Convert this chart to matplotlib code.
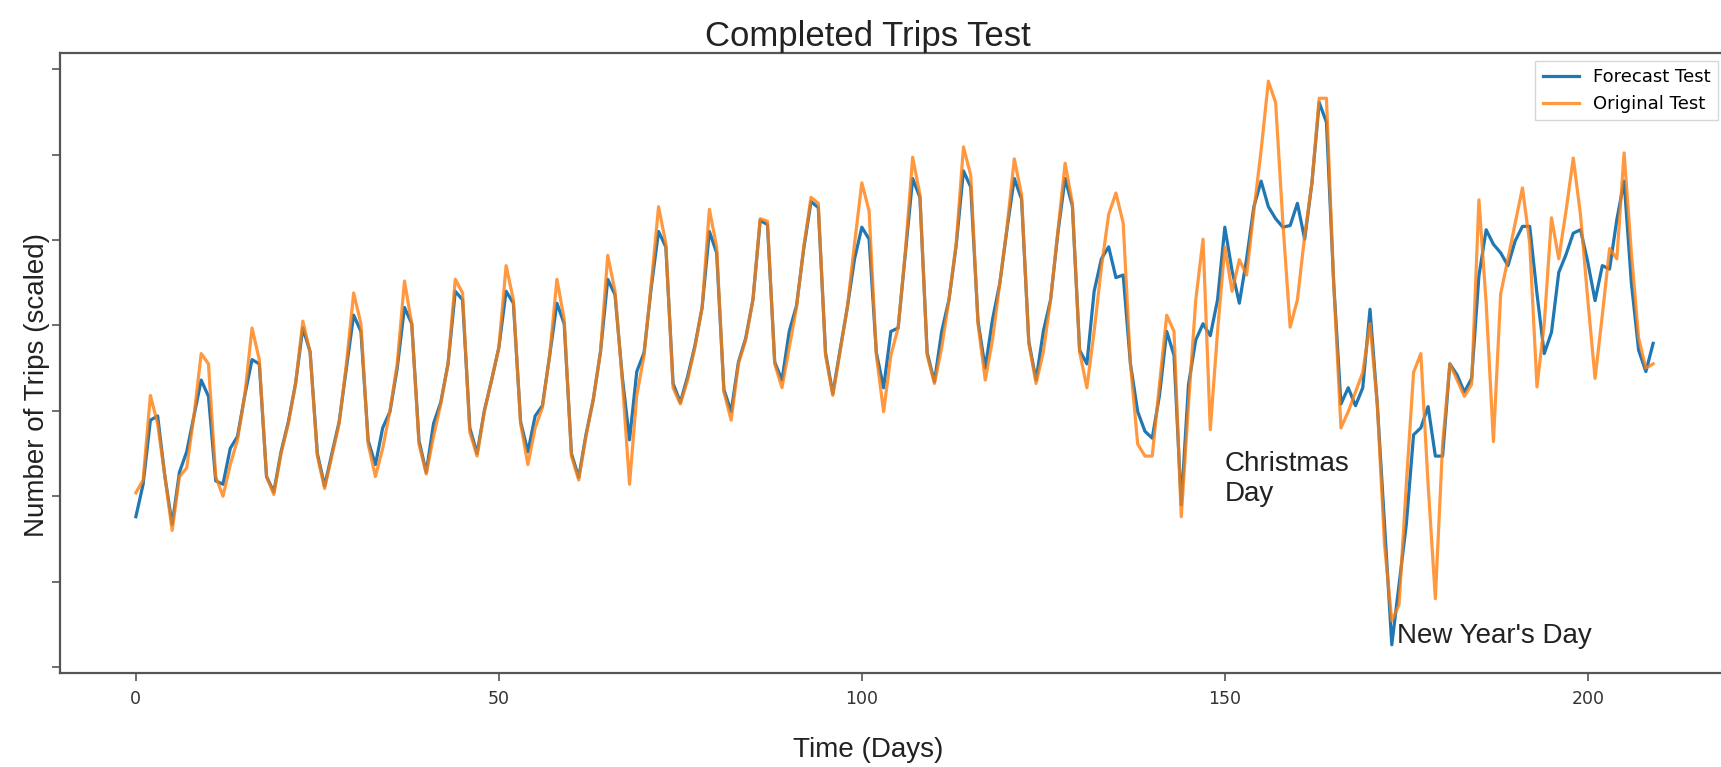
import numpy as np
import matplotlib.pyplot as plt

# ---- data (scaled trip counts, one value per day) ----
days = np.arange(210)

original_test = [
    2.04, 2.19, 3.18, 2.85, 2.23, 1.60, 2.23, 2.33, 2.94, 3.67,
    3.55, 2.23, 2.00, 2.37, 2.66, 3.18, 3.97, 3.60, 2.23, 2.02,
    2.50, 2.85, 3.32, 4.05, 3.69, 2.47, 2.09, 2.47, 2.85, 3.55,
    4.38, 4.02, 2.61, 2.23, 2.56, 3.00, 3.55, 4.52, 4.02, 2.61,
    2.26, 2.70, 3.08, 3.55, 4.54, 4.38, 2.75, 2.47, 2.99, 3.36,
    3.74, 4.70, 4.30, 2.85, 2.37, 2.80, 3.04, 3.65, 4.54, 4.07,
    2.47, 2.19, 2.70, 3.13, 3.69, 4.82, 4.40, 3.36, 2.14, 3.18,
    3.65, 4.49, 5.39, 4.96, 3.27, 3.08, 3.36, 3.74, 4.21, 5.36,
    4.92, 3.22, 2.89, 3.55, 3.83, 4.30, 5.25, 5.22, 3.55, 3.27,
    3.74, 4.21, 4.92, 5.50, 5.43, 3.65, 3.18, 3.69, 4.21, 4.96,
    5.67, 5.34, 3.65, 2.99, 3.65, 3.97, 4.87, 5.97, 5.53, 3.65,
    3.32, 3.74, 4.30, 4.96, 6.09, 5.76, 4.02, 3.36, 3.83, 4.49,
    5.15, 5.95, 5.53, 3.79, 3.32, 3.69, 4.30, 5.10, 5.90, 5.43,
    3.69, 3.27, 3.93, 4.68, 5.30, 5.55, 5.20, 3.55, 2.61, 2.47,
    2.47, 3.31, 4.12, 3.93, 1.76, 3.08, 4.30, 5.01, 2.78, 3.93,
    4.92, 4.40, 4.77, 4.59, 5.34, 6.05, 6.86, 6.61, 5.20, 3.98,
    4.30, 5.05, 5.67, 6.66, 6.66, 4.49, 2.80, 2.99, 3.22, 3.45,
    4.02, 3.08, 1.43, 0.54, 0.73, 2.14, 3.45, 3.67, 2.14, 0.80,
    2.61, 3.55, 3.36, 3.17, 3.31, 5.47, 4.26, 2.64, 4.37, 4.78,
    5.20, 5.61, 4.96, 3.28, 4.02, 5.26, 4.78, 5.34, 5.96, 5.29,
    4.30, 3.38, 4.12, 4.90, 4.78, 6.02, 4.85, 3.85, 3.50, 3.55,
]

forecast_test = [
    1.76, 2.14, 2.89, 2.94, 2.23, 1.67, 2.28, 2.52, 2.94, 3.36,
    3.17, 2.18, 2.14, 2.56, 2.70, 3.18, 3.60, 3.55, 2.23, 2.05,
    2.52, 2.87, 3.32, 3.97, 3.69, 2.50, 2.12, 2.50, 2.87, 3.50,
    4.12, 3.93, 2.65, 2.37, 2.80, 2.99, 3.50, 4.21, 4.02, 2.65,
    2.28, 2.85, 3.10, 3.55, 4.40, 4.30, 2.80, 2.50, 3.00, 3.36,
    3.74, 4.40, 4.26, 2.87, 2.52, 2.94, 3.06, 3.65, 4.26, 4.02,
    2.50, 2.22, 2.72, 3.13, 3.69, 4.54, 4.36, 3.40, 2.66, 3.46,
    3.68, 4.45, 5.10, 4.92, 3.32, 3.10, 3.40, 3.76, 4.21, 5.10,
    4.85, 3.25, 2.99, 3.57, 3.85, 4.30, 5.23, 5.18, 3.57, 3.36,
    3.93, 4.23, 4.90, 5.45, 5.38, 3.68, 3.20, 3.71, 4.21, 4.78,
    5.15, 5.01, 3.68, 3.27, 3.93, 3.97, 4.85, 5.72, 5.50, 3.68,
    3.34, 3.93, 4.30, 4.94, 5.81, 5.62, 4.05, 3.50, 4.07, 4.49,
    5.13, 5.72, 5.48, 3.81, 3.36, 3.93, 4.30, 5.08, 5.72, 5.40,
    3.71, 3.55, 4.40, 4.78, 4.92, 4.56, 4.59, 3.55, 2.99, 2.76,
    2.68, 3.18, 3.93, 3.65, 1.90, 3.31, 3.83, 4.02, 3.88, 4.30,
    5.15, 4.64, 4.26, 4.78, 5.39, 5.69, 5.39, 5.25, 5.15, 5.17,
    5.43, 5.01, 5.67, 6.61, 6.38, 4.49, 3.08, 3.27, 3.06, 3.27,
    4.19, 3.08, 1.67, 0.26, 0.97, 1.67, 2.72, 2.80, 3.05, 2.47,
    2.47, 3.55, 3.42, 3.22, 3.38, 4.58, 5.12, 4.95, 4.85, 4.70,
    4.99, 5.16, 5.16, 4.37, 3.67, 3.92, 4.62, 4.83, 5.08, 5.12,
    4.74, 4.29, 4.70, 4.66, 5.24, 5.69, 4.50, 3.71, 3.46, 3.79,
]

xticks = [0, 50, 100, 150, 200]

W, H = 1721, 767
fig = plt.figure(figsize=(W / 100, H / 100), dpi=100)
# axes box runs a little past the right edge, like the cropped original
ax = fig.add_axes([60 / W, 1 - 673 / H, (1729 - 60) / W, 620 / H])

ax.plot(days, forecast_test, color='#1f77b4', linewidth=2.3, label='Forecast Test')
ax.plot(days, original_test, color='#ff7f0e', linewidth=2.3, alpha=0.8,
        label='Original Test')

ax.set_xticks(xticks)
ax.set_yticks(range(8))
ax.set_yticklabels([])
ax.tick_params(axis='both', direction='out', length=6, width=1.2,
               color='#555555', labelsize=12.5, labelcolor='#333333', pad=6)
for sp in ax.spines.values():
    sp.set_color('#555555')
    sp.set_linewidth(1.6)

arial = 'Liberation Sans'
ax.set_title('Completed Trips Test', fontsize=25, family=arial,
             color='#222222', x=0.484, pad=1)
ax.set_xlabel('Time (Days)', fontsize=20, family=arial, color='#222222')
ax.xaxis.set_label_coords(0.484, -0.103)
ax.set_ylabel('Number of Trips (scaled)', fontsize=20, family=arial,
              color='#222222')
ax.yaxis.set_label_coords(-0.006, 0.465)

ax.text(150, 2.2, 'Christmas\nDay', fontsize=20, family=arial,
        color='#222222', ha='left', va='center', linespacing=1.2)
ax.text(173.7, 0.36, "New Year's Day", fontsize=20, family=arial,
        color='#222222', ha='left', va='center')

leg = ax.legend(loc='upper right', bbox_to_anchor=(1718 / W, 1 - 61 / H),
                bbox_transform=fig.transFigure, borderaxespad=0,
                fontsize=13, framealpha=0.8, fancybox=False)
leg.get_frame().set_edgecolor('#cccccc')

fig.savefig('out.png', dpi=100, facecolor='white')
